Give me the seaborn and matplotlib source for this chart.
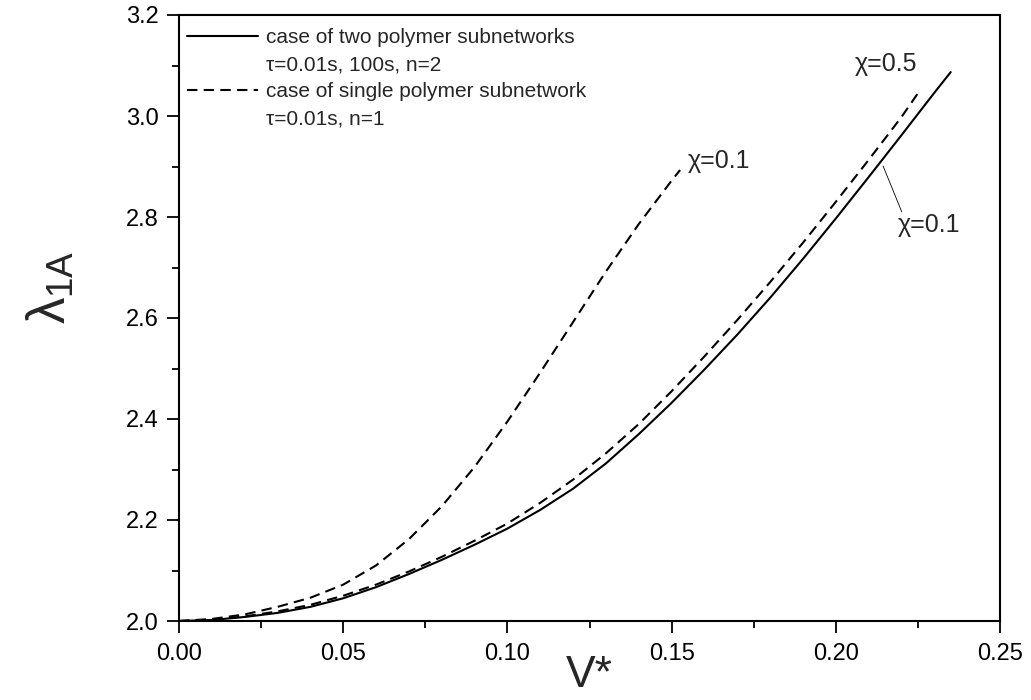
import matplotlib
matplotlib.use("Agg")
import matplotlib.pyplot as plt
import seaborn as sns
import pandas as pd
from matplotlib.lines import Line2D
from matplotlib.ticker import MultipleLocator, FormatStrFormatter

# ---- data ----
v_two = [0.0, 0.01, 0.02, 0.03, 0.04, 0.05, 0.06, 0.07, 0.08, 0.09, 0.10, 0.11, 0.12,
         0.13, 0.14, 0.15, 0.16, 0.17, 0.18, 0.19, 0.20, 0.21, 0.22, 0.23, 0.235]
lam_two = [2.0, 2.002, 2.008, 2.016, 2.028, 2.045, 2.067, 2.093, 2.121, 2.151, 2.183, 2.220,
           2.262, 2.312, 2.370, 2.432, 2.498, 2.567, 2.640, 2.717, 2.797, 2.879, 2.962, 3.046, 3.087]

v_single05 = [0.0, 0.01, 0.02, 0.03, 0.04, 0.05, 0.06, 0.07, 0.08, 0.09, 0.10, 0.11, 0.12,
              0.13, 0.14, 0.15, 0.16, 0.17, 0.18, 0.19, 0.20, 0.21, 0.22, 0.225]
lam_single05 = [2.0, 2.002, 2.009, 2.019, 2.032, 2.050, 2.072, 2.098, 2.127, 2.159, 2.193, 2.234,
                2.280, 2.332, 2.390, 2.455, 2.524, 2.596, 2.671, 2.749, 2.830, 2.913, 2.998, 3.045]

v_single01 = [0.0, 0.01, 0.02, 0.03, 0.04, 0.05, 0.06, 0.07, 0.08, 0.09, 0.10, 0.11, 0.12,
              0.13, 0.14, 0.15, 0.1526]
lam_single01 = [2.0, 2.004, 2.013, 2.028, 2.046, 2.072, 2.110, 2.162, 2.227, 2.305, 2.395, 2.492,
                2.592, 2.692, 2.786, 2.872, 2.893]

legend_labels = ["case of two polymer subnetworks", "\u03c4=0.01s, 100s, n=2",
                 "case of single polymer subnetwork", "\u03c4=0.01s, n=1"]

# ---- style ----
sns.set_theme(style="ticks")
plt.rcParams["font.family"] = ["Liberation Sans", "DejaVu Sans"]
plt.rcParams["mathtext.fontset"] = "custom"
plt.rcParams["mathtext.rm"] = "Liberation Sans"
plt.rcParams["mathtext.it"] = "Liberation Sans"

fig = plt.figure(figsize=(10.31, 7.00), dpi=100)
ax = fig.add_axes([179 / 1031, 1 - 621 / 700, (1000 - 179) / 1031, (621 - 15) / 700])

df_two = pd.DataFrame({"V": v_two, "lam": lam_two})
df_s05 = pd.DataFrame({"V": v_single05, "lam": lam_single05})
df_s01 = pd.DataFrame({"V": v_single01, "lam": lam_single01})

lw = 1.5
dash = (0, (5, 3))
sns.lineplot(data=df_two, x="V", y="lam", ax=ax, color="black", lw=lw, sort=False)
sns.lineplot(data=df_s05, x="V", y="lam", ax=ax, color="black", lw=lw, sort=False,
             linestyle=dash)
sns.lineplot(data=df_s01, x="V", y="lam", ax=ax, color="black", lw=lw, sort=False,
             linestyle=dash)

ax.set_xlim(0, 0.25)
ax.set_ylim(2.0, 3.2)
ax.xaxis.set_major_locator(MultipleLocator(0.05))
ax.xaxis.set_minor_locator(MultipleLocator(0.025))
ax.yaxis.set_major_locator(MultipleLocator(0.2))
ax.yaxis.set_minor_locator(MultipleLocator(0.1))
ax.xaxis.set_major_formatter(FormatStrFormatter("%.2f"))
ax.yaxis.set_major_formatter(FormatStrFormatter("%.1f"))

for s in ax.spines.values():
    s.set_visible(True)
    s.set_linewidth(1.5)
    s.set_color("black")
ax.tick_params(which="major", direction="out", length=8.5, width=1.3, labelsize=17,
               colors="black")
ax.tick_params(axis="y", which="major", pad=6)
ax.tick_params(axis="x", which="major", pad=7)
ax.tick_params(which="minor", direction="out", length=4.7, width=1.3, colors="black")
ax.tick_params(top=False, right=False, which="both")

ax.set_xlabel("V*", fontsize=32, labelpad=-7)
ax.set_ylabel(r"$\lambda_{\mathregular{1A}}$", fontsize=38)
ax.yaxis.set_label_coords(-0.125, 0.55)

# annotations
ax.text(0.155, 2.911, "\u03c7=0.1", fontsize=18, va="center", ha="left")
ax.text(0.2058, 3.103, "\u03c7=0.5", fontsize=18, va="center", ha="left")
ax.text(0.219, 2.784, "\u03c7=0.1", fontsize=18, va="center", ha="left")
ax.plot([0.2144, 0.2201], [2.901, 2.810], color="black", lw=0.6)

# legend
handles = [Line2D([], [], color="black", lw=lw),
           Line2D([], [], linestyle="none"),
           Line2D([], [], color="black", lw=lw, linestyle=dash),
           Line2D([], [], linestyle="none")]
ax.legend(handles, legend_labels, loc="upper left", bbox_to_anchor=(0.0046, 0.985),
          frameon=False, fontsize=15, handlelength=3.4, handletextpad=0.4,
          labelspacing=0.385, borderaxespad=0.0, borderpad=0.2)

fig.savefig("out.png", dpi=100)
